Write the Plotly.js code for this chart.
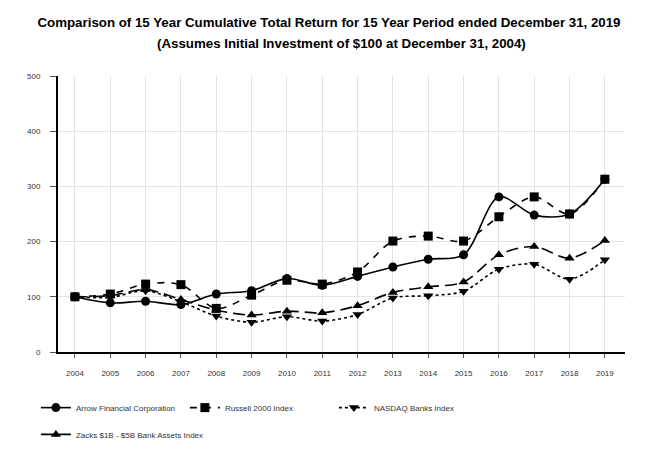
<!DOCTYPE html>
<html>
<head>
<meta charset="utf-8">
<script src="https://cdn.plot.ly/plotly-3.0.1.min.js"></script>
<style>
  html, body { margin: 0; padding: 0; background: #fff; }
  #chart { width: 658px; height: 466px; }
</style>
</head>
<body>
<div id="chart"></div>
<script>
// values
var years = [2004, 2005, 2006, 2007, 2008, 2009, 2010, 2011, 2012, 2013, 2014, 2015, 2016, 2017, 2018, 2019];
var arrow   = [100, 89, 92, 86, 105, 111, 133, 121, 137, 154, 168, 176, 281, 248, 250, 313];
var russell = [100, 105, 123, 122, 79, 103, 130, 123, 145, 201, 210, 201, 245, 281, 250, 313];
var nasdaq  = [100, 99, 111, 91, 65, 54, 64, 56, 68, 98, 102, 110, 150, 159, 132, 167];
var zacks   = [100, 102, 113, 95, 76, 67, 74, 71, 84, 108, 118, 127, 176, 191, 170, 202];
var yTicks = [0, 100, 200, 300, 400, 500];

function series(name, vals, dash, symbol, leg) {
  return {
    x: years, y: vals, name: name, type: 'scatter', mode: 'lines+markers',
    legend: leg,
    line: { color: '#000', width: 1.6, dash: dash, shape: 'spline', smoothing: 0.9 },
    marker: { color: '#000', size: 9, symbol: symbol }
  };
}

try {
  var data = [
    series('Arrow Financial Corporation', arrow, 'solid', 'circle', 'legend'),
    series('Russell 2000 Index', russell, '7px,7px', 'square', 'legend'),
    series('NASDAQ Banks Index', nasdaq, 'dot', 'triangle-down', 'legend'),
    series('Zacks $1B - $5B Bank Assets Index', zacks, '12px,6px', 'triangle-up', 'legend2')
  ];

  var legendStyle = {
    orientation: 'h', x: -0.039, xanchor: 'left', yanchor: 'top',
    entrywidth: 104, entrywidthmode: 'pixels', itemwidth: 30,
    font: { family: 'Liberation Sans Narrow, Arial Narrow, Liberation Sans, sans-serif', size: 8, color: '#333' }
  };

  var layout = {
    width: 658, height: 466,
    margin: { l: 58, r: 33, t: 76, b: 114 },
    paper_bgcolor: '#fff', plot_bgcolor: '#fff',
    font: { family: 'Liberation Sans, Arial, sans-serif', size: 8, color: '#333' },
    title: {
      text: '<b>Comparison of 15 Year Cumulative Total Return for 15 Year Period ended December 31, 2019</b>',
      font: { size: 13.3, color: '#000' },
      x: 0.5, xanchor: 'center', y: 0.953, yanchor: 'middle'
    },
    annotations: [{
      text: '<b>(Assumes Initial Investment of $100 at December 31, 2004)</b>',
      xref: 'paper', yref: 'paper', x: 0.5, y: 1.116, xanchor: 'center', yanchor: 'middle',
      showarrow: false, font: { size: 13.3, color: '#000' }
    }],
    xaxis: {
      type: 'linear', range: [2003.52, 2019.57], tickvals: years,
      showgrid: true, gridcolor: '#e3e3e3', gridwidth: 1,
      showline: true, linecolor: '#000', linewidth: 2,
      ticks: 'outside', ticklen: 4, tickcolor: '#555',
      ticklabelstandoff: 8, zeroline: false
    },
    yaxis: {
      range: [0, 500], tickvals: yTicks,
      showgrid: true, gridcolor: '#e3e3e3', gridwidth: 1,
      showline: true, linecolor: '#000', linewidth: 2,
      ticks: 'outside', ticklen: 6, tickcolor: '#555',
      ticklabelstandoff: 8, zeroline: false
    },
    showlegend: true,
    legend: Object.assign({}, legendStyle, { y: -0.149 }),
    legend2: Object.assign({}, legendStyle, { y: -0.246, entrywidth: 220 })
  };

  Plotly.newPlot('chart', data, layout, { displayModeBar: false, staticPlot: true });
} catch (e) {
  console.log(e);
}
</script>
</body>
</html>
